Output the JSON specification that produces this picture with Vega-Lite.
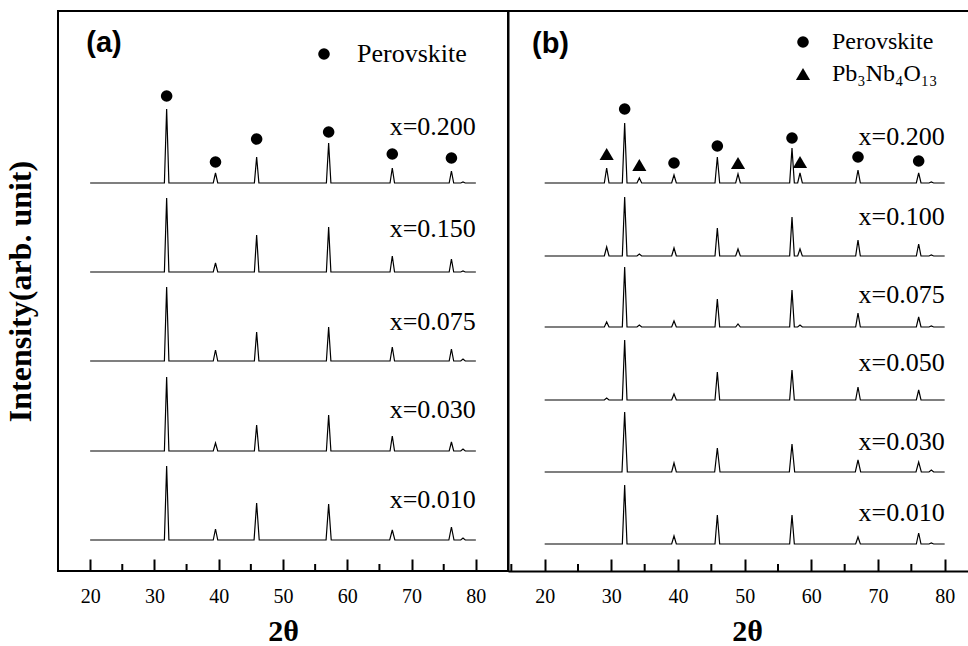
{
"$schema": "https://vega.github.io/schema/vega-lite/v6.json",
"background": "white",
"padding": {"left": 3, "top": 10, "right": 0, "bottom": 0},
"autosize": {"type": "pad"},
"bounds": "flush",
"spacing": 0,
"config": {
  "font": "Liberation Serif",
  "view": {"stroke": "black", "strokeWidth": 2},
  "axis": {"labelColor": "black", "titleColor": "black", "domainColor": "black", "tickColor": "black", "grid": false, "labelFont": "Liberation Serif", "titleFont": "Liberation Serif"},
  "legend": {"labelColor": "black", "labelFont": "Liberation Serif", "symbolStrokeWidth": 0}
},
"datasets": {
"a": [
{"s":"0.200","t":20,"v":388},{"s":"0.200","t":31.55,"v":388},{"s":"0.200","t":31.9,"v":462},{"s":"0.200","t":32.25,"v":388},{"s":"0.200","t":39.15,"v":388},{"s":"0.200","t":39.5,"v":398},{"s":"0.200","t":39.85,"v":388},{"s":"0.200","t":45.55,"v":388},{"s":"0.200","t":45.9,"v":414},{"s":"0.200","t":46.25,"v":388},{"s":"0.200","t":56.75,"v":388},{"s":"0.200","t":57.1,"v":428},{"s":"0.200","t":57.45,"v":388},{"s":"0.200","t":66.65,"v":388},{"s":"0.200","t":67,"v":403},{"s":"0.200","t":67.35,"v":388},{"s":"0.200","t":75.85,"v":388},{"s":"0.200","t":76.2,"v":400},{"s":"0.200","t":76.55,"v":388},{"s":"0.200","t":77.65,"v":388},{"s":"0.200","t":78,"v":389},{"s":"0.200","t":78.35,"v":388},{"s":"0.200","t":80,"v":388},
{"s":"0.150","t":20,"v":299},{"s":"0.150","t":31.55,"v":299},{"s":"0.150","t":31.9,"v":373},{"s":"0.150","t":32.25,"v":299},{"s":"0.150","t":39.15,"v":299},{"s":"0.150","t":39.5,"v":308},{"s":"0.150","t":39.85,"v":299},{"s":"0.150","t":45.55,"v":299},{"s":"0.150","t":45.9,"v":336},{"s":"0.150","t":46.25,"v":299},{"s":"0.150","t":56.75,"v":299},{"s":"0.150","t":57.1,"v":344},{"s":"0.150","t":57.45,"v":299},{"s":"0.150","t":66.65,"v":299},{"s":"0.150","t":67,"v":315},{"s":"0.150","t":67.35,"v":299},{"s":"0.150","t":75.85,"v":299},{"s":"0.150","t":76.2,"v":312},{"s":"0.150","t":76.55,"v":299},{"s":"0.150","t":77.65,"v":299},{"s":"0.150","t":78,"v":300},{"s":"0.150","t":78.35,"v":299},{"s":"0.150","t":80,"v":299},
{"s":"0.075","t":20,"v":210},{"s":"0.075","t":31.55,"v":210},{"s":"0.075","t":31.9,"v":284},{"s":"0.075","t":32.25,"v":210},{"s":"0.075","t":39.15,"v":210},{"s":"0.075","t":39.5,"v":221},{"s":"0.075","t":39.85,"v":210},{"s":"0.075","t":45.55,"v":210},{"s":"0.075","t":45.9,"v":239},{"s":"0.075","t":46.25,"v":210},{"s":"0.075","t":56.75,"v":210},{"s":"0.075","t":57.1,"v":244},{"s":"0.075","t":57.45,"v":210},{"s":"0.075","t":66.65,"v":210},{"s":"0.075","t":67,"v":224},{"s":"0.075","t":67.35,"v":210},{"s":"0.075","t":75.85,"v":210},{"s":"0.075","t":76.2,"v":222},{"s":"0.075","t":76.55,"v":210},{"s":"0.075","t":77.65,"v":210},{"s":"0.075","t":78,"v":212},{"s":"0.075","t":78.35,"v":210},{"s":"0.075","t":80,"v":210},
{"s":"0.030","t":20,"v":120},{"s":"0.030","t":31.55,"v":120},{"s":"0.030","t":31.9,"v":194},{"s":"0.030","t":32.25,"v":120},{"s":"0.030","t":39.15,"v":120},{"s":"0.030","t":39.5,"v":128},{"s":"0.030","t":39.85,"v":120},{"s":"0.030","t":45.55,"v":120},{"s":"0.030","t":45.9,"v":146},{"s":"0.030","t":46.25,"v":120},{"s":"0.030","t":56.75,"v":120},{"s":"0.030","t":57.1,"v":156},{"s":"0.030","t":57.45,"v":120},{"s":"0.030","t":66.65,"v":120},{"s":"0.030","t":67,"v":135},{"s":"0.030","t":67.35,"v":120},{"s":"0.030","t":75.85,"v":120},{"s":"0.030","t":76.2,"v":129},{"s":"0.030","t":76.55,"v":120},{"s":"0.030","t":77.65,"v":120},{"s":"0.030","t":78,"v":122},{"s":"0.030","t":78.35,"v":120},{"s":"0.030","t":80,"v":120},
{"s":"0.010","t":20,"v":31},{"s":"0.010","t":31.55,"v":31},{"s":"0.010","t":31.9,"v":105},{"s":"0.010","t":32.25,"v":31},{"s":"0.010","t":39.15,"v":31},{"s":"0.010","t":39.5,"v":42},{"s":"0.010","t":39.85,"v":31},{"s":"0.010","t":45.5,"v":31},{"s":"0.010","t":45.9,"v":68},{"s":"0.010","t":46.3,"v":31},{"s":"0.010","t":56.7,"v":31},{"s":"0.010","t":57.1,"v":67},{"s":"0.010","t":57.5,"v":31},{"s":"0.010","t":66.6,"v":31},{"s":"0.010","t":67,"v":41},{"s":"0.010","t":67.4,"v":31},{"s":"0.010","t":75.8,"v":31},{"s":"0.010","t":76.2,"v":44},{"s":"0.010","t":76.6,"v":31},{"s":"0.010","t":77.65,"v":31},{"s":"0.010","t":78,"v":33},{"s":"0.010","t":78.35,"v":31},{"s":"0.010","t":80,"v":31}
],
"b": [
{"s":"0.200","t":20,"v":388},{"s":"0.200","t":28.95,"v":388},{"s":"0.200","t":29.3,"v":403},{"s":"0.200","t":29.65,"v":388},{"s":"0.200","t":31.65,"v":388},{"s":"0.200","t":32,"v":448},{"s":"0.200","t":32.35,"v":388},{"s":"0.200","t":33.85,"v":388},{"s":"0.200","t":34.2,"v":393},{"s":"0.200","t":34.55,"v":388},{"s":"0.200","t":39.05,"v":388},{"s":"0.200","t":39.4,"v":396},{"s":"0.200","t":39.75,"v":388},{"s":"0.200","t":45.55,"v":388},{"s":"0.200","t":45.9,"v":414},{"s":"0.200","t":46.25,"v":388},{"s":"0.200","t":48.65,"v":388},{"s":"0.200","t":49,"v":397},{"s":"0.200","t":49.35,"v":388},{"s":"0.200","t":56.75,"v":388},{"s":"0.200","t":57.1,"v":423},{"s":"0.200","t":57.45,"v":388},{"s":"0.200","t":57.95,"v":388},{"s":"0.200","t":58.3,"v":398},{"s":"0.200","t":58.65,"v":388},{"s":"0.200","t":66.65,"v":388},{"s":"0.200","t":67,"v":401},{"s":"0.200","t":67.35,"v":388},{"s":"0.200","t":75.75,"v":388},{"s":"0.200","t":76.1,"v":398},{"s":"0.200","t":76.45,"v":388},{"s":"0.200","t":77.65,"v":388},{"s":"0.200","t":78,"v":389},{"s":"0.200","t":78.35,"v":388},{"s":"0.200","t":80,"v":388},
{"s":"0.100","t":20,"v":315},{"s":"0.100","t":28.95,"v":315},{"s":"0.100","t":29.3,"v":324},{"s":"0.100","t":29.65,"v":315},{"s":"0.100","t":31.65,"v":315},{"s":"0.100","t":32,"v":374},{"s":"0.100","t":32.35,"v":315},{"s":"0.100","t":33.85,"v":315},{"s":"0.100","t":34.2,"v":317},{"s":"0.100","t":34.55,"v":315},{"s":"0.100","t":39.05,"v":315},{"s":"0.100","t":39.4,"v":323},{"s":"0.100","t":39.75,"v":315},{"s":"0.100","t":45.55,"v":315},{"s":"0.100","t":45.9,"v":343},{"s":"0.100","t":46.25,"v":315},{"s":"0.100","t":48.65,"v":315},{"s":"0.100","t":49,"v":322},{"s":"0.100","t":49.35,"v":315},{"s":"0.100","t":56.75,"v":315},{"s":"0.100","t":57.1,"v":354},{"s":"0.100","t":57.45,"v":315},{"s":"0.100","t":57.95,"v":315},{"s":"0.100","t":58.3,"v":322},{"s":"0.100","t":58.65,"v":315},{"s":"0.100","t":66.65,"v":315},{"s":"0.100","t":67,"v":331},{"s":"0.100","t":67.35,"v":315},{"s":"0.100","t":75.75,"v":315},{"s":"0.100","t":76.1,"v":327},{"s":"0.100","t":76.45,"v":315},{"s":"0.100","t":77.65,"v":315},{"s":"0.100","t":78,"v":316},{"s":"0.100","t":78.35,"v":315},{"s":"0.100","t":80,"v":315},
{"s":"0.075","t":20,"v":244},{"s":"0.075","t":28.95,"v":244},{"s":"0.075","t":29.3,"v":249},{"s":"0.075","t":29.65,"v":244},{"s":"0.075","t":31.65,"v":244},{"s":"0.075","t":32,"v":304},{"s":"0.075","t":32.35,"v":244},{"s":"0.075","t":33.85,"v":244},{"s":"0.075","t":34.2,"v":246},{"s":"0.075","t":34.55,"v":244},{"s":"0.075","t":39.05,"v":244},{"s":"0.075","t":39.4,"v":250},{"s":"0.075","t":39.75,"v":244},{"s":"0.075","t":45.55,"v":244},{"s":"0.075","t":45.9,"v":272},{"s":"0.075","t":46.25,"v":244},{"s":"0.075","t":48.65,"v":244},{"s":"0.075","t":49,"v":247},{"s":"0.075","t":49.35,"v":244},{"s":"0.075","t":56.75,"v":244},{"s":"0.075","t":57.1,"v":281},{"s":"0.075","t":57.45,"v":244},{"s":"0.075","t":57.95,"v":244},{"s":"0.075","t":58.3,"v":246},{"s":"0.075","t":58.65,"v":244},{"s":"0.075","t":66.65,"v":244},{"s":"0.075","t":67,"v":258},{"s":"0.075","t":67.35,"v":244},{"s":"0.075","t":75.75,"v":244},{"s":"0.075","t":76.1,"v":254},{"s":"0.075","t":76.45,"v":244},{"s":"0.075","t":77.65,"v":244},{"s":"0.075","t":78,"v":245},{"s":"0.075","t":78.35,"v":244},{"s":"0.075","t":80,"v":244},
{"s":"0.050","t":20,"v":171},{"s":"0.050","t":28.95,"v":171},{"s":"0.050","t":29.3,"v":173},{"s":"0.050","t":29.65,"v":171},{"s":"0.050","t":31.65,"v":171},{"s":"0.050","t":32,"v":231},{"s":"0.050","t":32.35,"v":171},{"s":"0.050","t":39.05,"v":171},{"s":"0.050","t":39.4,"v":177},{"s":"0.050","t":39.75,"v":171},{"s":"0.050","t":45.55,"v":171},{"s":"0.050","t":45.9,"v":199},{"s":"0.050","t":46.25,"v":171},{"s":"0.050","t":56.75,"v":171},{"s":"0.050","t":57.1,"v":201},{"s":"0.050","t":57.45,"v":171},{"s":"0.050","t":66.65,"v":171},{"s":"0.050","t":67,"v":184},{"s":"0.050","t":67.35,"v":171},{"s":"0.050","t":75.75,"v":171},{"s":"0.050","t":76.1,"v":181},{"s":"0.050","t":76.45,"v":171},{"s":"0.050","t":80,"v":171},
{"s":"0.030","t":20,"v":99},{"s":"0.030","t":31.6,"v":99},{"s":"0.030","t":32,"v":159},{"s":"0.030","t":32.4,"v":99},{"s":"0.030","t":39.05,"v":99},{"s":"0.030","t":39.4,"v":108},{"s":"0.030","t":39.75,"v":99},{"s":"0.030","t":45.5,"v":99},{"s":"0.030","t":45.9,"v":123},{"s":"0.030","t":46.3,"v":99},{"s":"0.030","t":56.7,"v":99},{"s":"0.030","t":57.1,"v":127},{"s":"0.030","t":57.5,"v":99},{"s":"0.030","t":66.6,"v":99},{"s":"0.030","t":67,"v":111},{"s":"0.030","t":67.4,"v":99},{"s":"0.030","t":75.7,"v":99},{"s":"0.030","t":76.1,"v":109},{"s":"0.030","t":76.5,"v":99},{"s":"0.030","t":77.65,"v":99},{"s":"0.030","t":78,"v":101},{"s":"0.030","t":78.35,"v":99},{"s":"0.030","t":80,"v":99},
{"s":"0.010","t":20,"v":27},{"s":"0.010","t":31.65,"v":27},{"s":"0.010","t":32,"v":86},{"s":"0.010","t":32.35,"v":27},{"s":"0.010","t":39.05,"v":27},{"s":"0.010","t":39.4,"v":35},{"s":"0.010","t":39.75,"v":27},{"s":"0.010","t":45.55,"v":27},{"s":"0.010","t":45.9,"v":56},{"s":"0.010","t":46.25,"v":27},{"s":"0.010","t":56.75,"v":27},{"s":"0.010","t":57.1,"v":56},{"s":"0.010","t":57.45,"v":27},{"s":"0.010","t":66.65,"v":27},{"s":"0.010","t":67,"v":34},{"s":"0.010","t":67.35,"v":27},{"s":"0.010","t":75.75,"v":27},{"s":"0.010","t":76.1,"v":38},{"s":"0.010","t":76.45,"v":27},{"s":"0.010","t":77.65,"v":27},{"s":"0.010","t":78,"v":28},{"s":"0.010","t":78.35,"v":27},{"s":"0.010","t":80,"v":27}
],
"ma": [
{"ph":"Perovskite","t":31.9,"v":475},{"ph":"Perovskite","t":39.5,"v":409},{"ph":"Perovskite","t":45.9,"v":432},{"ph":"Perovskite","t":57.1,"v":439},{"ph":"Perovskite","t":67.0,"v":417},{"ph":"Perovskite","t":76.2,"v":413}
],
"mb": [
{"ph":"Pb₃Nb₄O₁₃","t":29.3,"v":417},{"ph":"Perovskite","t":32.0,"v":462},{"ph":"Pb₃Nb₄O₁₃","t":34.2,"v":406},{"ph":"Perovskite","t":39.4,"v":408},{"ph":"Perovskite","t":45.9,"v":425},{"ph":"Pb₃Nb₄O₁₃","t":49.0,"v":408},{"ph":"Perovskite","t":57.1,"v":433},{"ph":"Pb₃Nb₄O₁₃","t":58.3,"v":409},{"ph":"Perovskite","t":67.0,"v":414},{"ph":"Perovskite","t":76.1,"v":410}
],
"la": [
{"txt":"x=0.200","t":80,"v":444},{"txt":"x=0.150","t":80,"v":342},{"txt":"x=0.075","t":80,"v":249},{"txt":"x=0.030","t":80,"v":161},{"txt":"x=0.010","t":80,"v":71}
],
"lb": [
{"txt":"x=0.200","t":80,"v":434},{"txt":"x=0.100","t":80,"v":354},{"txt":"x=0.075","t":80,"v":276},{"txt":"x=0.050","t":80,"v":208},{"txt":"x=0.030","t":80,"v":129},{"txt":"x=0.010","t":80,"v":58}
]
},
"hconcat": [
{
  "width": 450, "height": 560,
  "layer": [
    {"data": {"name": "a"}, "mark": {"type": "line", "color": "black", "strokeWidth": 1.2},
     "encoding": {
       "x": {"field": "t", "type": "quantitative", "scale": {"domain": [15, 85], "nice": false, "zero": false},
             "axis": {"values": [20,30,40,50,60,70,80], "title": "2θ", "titleFontSize": 30, "titleFontWeight": "bold", "titlePadding": 10, "labelFontSize": 20, "labelPadding": 27, "labelOverlap": false, "labelFlush": false, "domain": false, "tickWidth": 2, "tickSize": -12}},
       "y": {"field": "v", "type": "quantitative", "scale": {"domain": [0, 560], "nice": false},
             "axis": {"title": "Intensity(arb. unit)", "domain": false, "ticks": false, "labels": false, "titleFontSize": 32, "titleFontWeight": "bold", "titlePadding": 21}},
       "detail": {"field": "s"}
     }},
    {"data": {"values": [{"t": 25}, {"t": 35}, {"t": 45}, {"t": 55}, {"t": 65}, {"t": 75}]},
     "mark": {"type": "rule", "color": "black", "strokeWidth": 2},
     "encoding": {"x": {"field": "t", "type": "quantitative"}, "y": {"datum": 0}, "y2": {"datum": 7}}},
    {"data": {"name": "ma"}, "mark": {"type": "point", "filled": true, "color": "black", "opacity": 1, "size": 135},
     "encoding": {
       "x": {"field": "t", "type": "quantitative"},
       "y": {"field": "v", "type": "quantitative"},
       "shape": {"field": "ph", "type": "nominal", "scale": {"domain": ["Perovskite"], "range": ["circle"]},
                 "legend": {"title": null, "orient": "none", "legendX": 253, "legendY": 30, "labelFontSize": 26, "labelOffset": 20, "symbolSize": 135, "symbolFillColor": "black"}}
     }},
    {"data": {"name": "la"}, "mark": {"type": "text", "align": "right", "baseline": "middle", "fontSize": 26, "font": "Liberation Serif", "color": "black"},
     "encoding": {"x": {"field": "t", "type": "quantitative"}, "y": {"field": "v", "type": "quantitative"}, "text": {"field": "txt"}}},
    {"data": {"values": [{"t": 19.4, "v": 528, "txt": "(a)"}]}, "mark": {"type": "text", "align": "left", "baseline": "middle", "fontSize": 29, "fontWeight": "bold", "font": "Liberation Sans", "color": "black"},
     "encoding": {"x": {"field": "t", "type": "quantitative"}, "y": {"field": "v", "type": "quantitative"}, "text": {"field": "txt"}}}
  ]
},
{
  "width": 460, "height": 560,
  "view": {"stroke": null},
  "layer": [
    {"data": {"name": "b"}, "mark": {"type": "line", "color": "black", "strokeWidth": 1.2},
     "encoding": {
       "x": {"field": "t", "type": "quantitative", "scale": {"domain": [14.5, 83.5], "nice": false, "zero": false},
             "axis": {"values": [20,30,40,50,60,70,80], "title": "2θ", "titleFontSize": 30, "titleFontWeight": "bold", "titlePadding": 10, "titleX": 239, "labelFontSize": 20, "labelPadding": 27, "labelOverlap": false, "labelFlush": false, "domain": true, "domainWidth": 2, "tickWidth": 2, "tickSize": -12}},
       "y": {"field": "v", "type": "quantitative", "scale": {"domain": [0, 560], "nice": false},
             "axis": {"title": null, "domain": true, "domainWidth": 2, "ticks": false, "labels": false}},
       "detail": {"field": "s"}
     }},
    {"data": {"values": [{"t": 15}, {"t": 25}, {"t": 35}, {"t": 45}, {"t": 55}, {"t": 65}, {"t": 75}]},
     "mark": {"type": "rule", "color": "black", "strokeWidth": 2},
     "encoding": {"x": {"field": "t", "type": "quantitative"}, "y": {"datum": 0}, "y2": {"datum": 7}}},
    {"data": {"values": [{"edge": "top"}]},
     "mark": {"type": "rule", "color": "black", "strokeWidth": 2},
     "encoding": {"y": {"datum": 560}}},
    {"data": {"name": "mb"}, "mark": {"type": "point", "filled": true, "color": "black", "opacity": 1},
     "encoding": {
       "x": {"field": "t", "type": "quantitative"},
       "y": {"field": "v", "type": "quantitative"},
       "shape": {"field": "ph", "type": "nominal", "scale": {"domain": ["Perovskite", "Pb₃Nb₄O₁₃"], "range": ["circle", "triangle-up"]},
                 "legend": {"title": null, "orient": "none", "legendX": 283, "legendY": 19, "labelFontSize": 24, "labelOffset": 17, "rowPadding": 8}},
       "size": {"field": "ph", "type": "nominal", "scale": {"domain": ["Perovskite", "Pb₃Nb₄O₁₃"], "range": [135, 200]},
                 "legend": {"title": null, "orient": "none", "legendX": 283, "legendY": 19, "labelFontSize": 24, "labelOffset": 17, "rowPadding": 8}}
     }},
    {"data": {"name": "lb"}, "mark": {"type": "text", "align": "right", "baseline": "middle", "fontSize": 26, "font": "Liberation Serif", "color": "black"},
     "encoding": {"x": {"field": "t", "type": "quantitative"}, "y": {"field": "v", "type": "quantitative"}, "text": {"field": "txt"}}},
    {"data": {"values": [{"t": 18.1, "v": 527, "txt": "(b)"}]}, "mark": {"type": "text", "align": "left", "baseline": "middle", "fontSize": 29, "fontWeight": "bold", "font": "Liberation Sans", "color": "black"},
     "encoding": {"x": {"field": "t", "type": "quantitative"}, "y": {"field": "v", "type": "quantitative"}, "text": {"field": "txt"}}}
  ]
}
],
"resolve": {"scale": {"x": "independent", "y": "independent", "shape": "independent", "size": "independent"}}
}
